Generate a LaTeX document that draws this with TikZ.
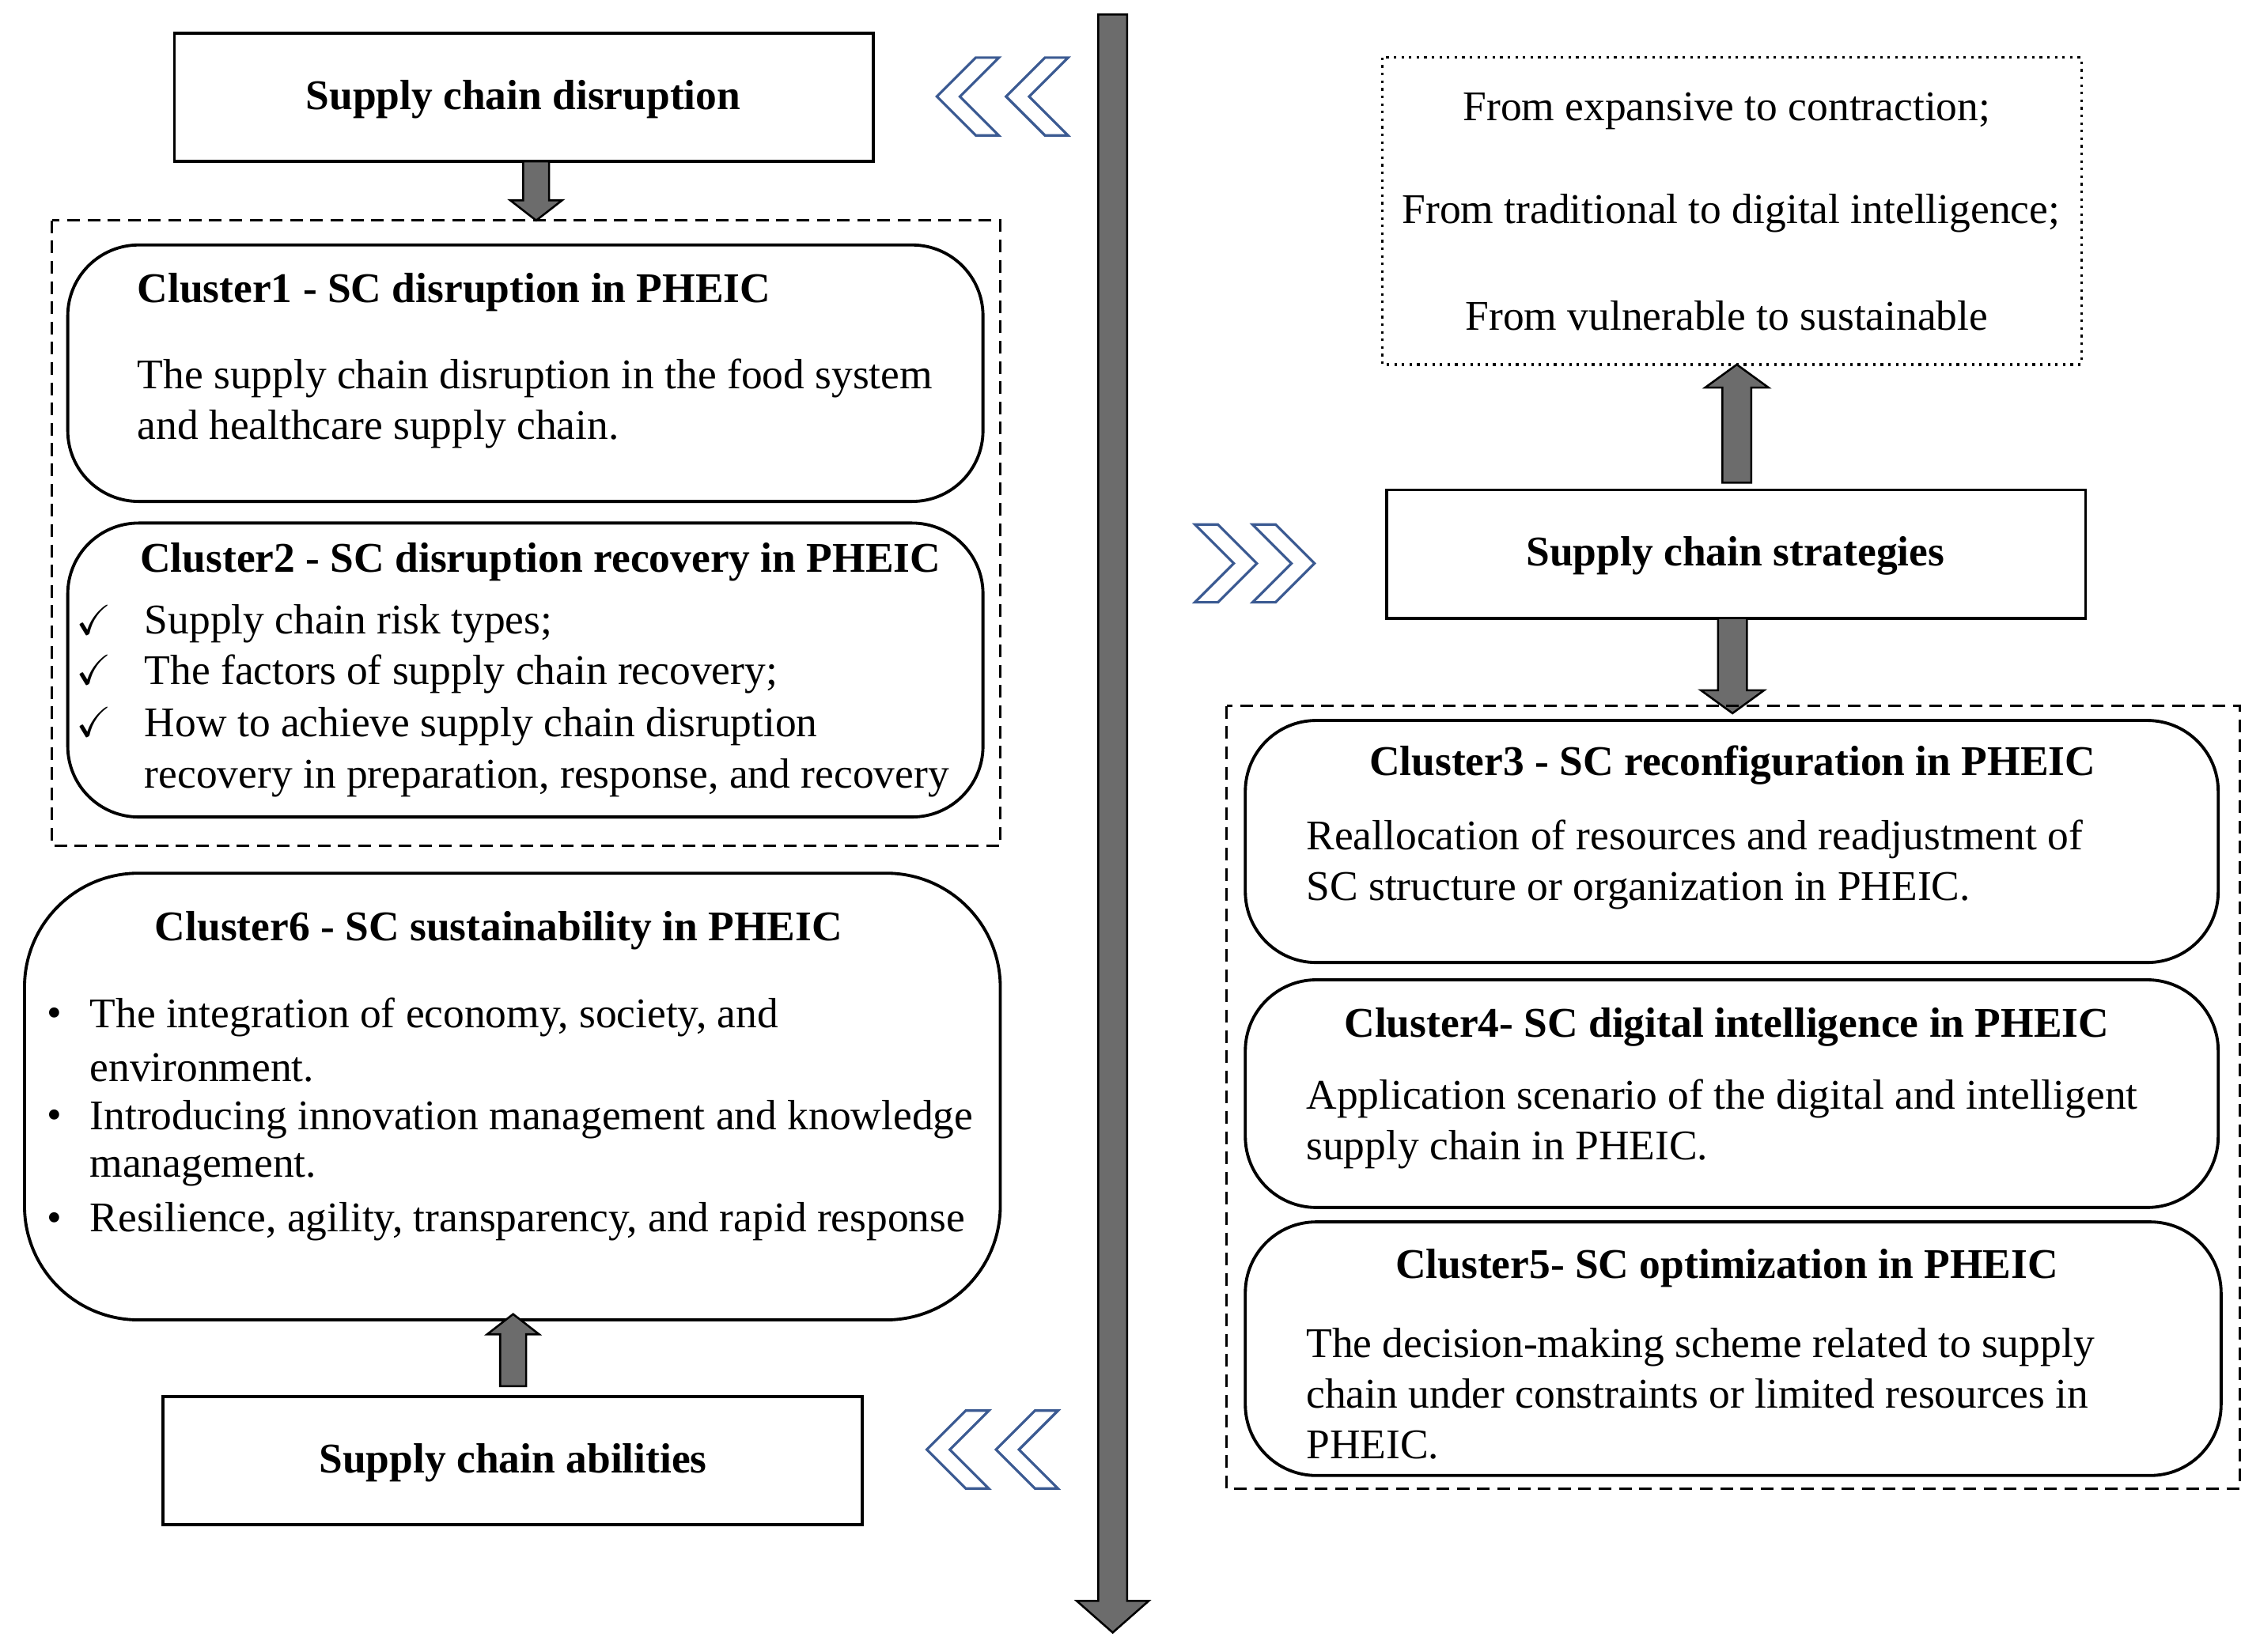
\documentclass[tikz,border=0pt]{standalone}
\usepackage{fontspec}
\setmainfont{Liberation Serif}
\usepackage{amssymb}
\definecolor{chevc}{HTML}{3B5A92}
\begin{document}
\begin{tikzpicture}[x=0.02cm,y=-0.02cm,
 every node/.style={inner sep=0pt,font=\fontsize{16.7}{20}\selectfont},
 sq/.style={draw,line width=1.2pt},
 rb/.style={draw,line width=1.2pt,rounded corners=28pt},
 dbox/.style={draw,line width=1pt,dash pattern=on 5pt off 3pt},
 garrow/.style={fill=gray!85!black,draw=black,line width=0.8pt},
 chev/.style={draw=chevc,line width=1pt,fill=white},
 tl/.style={anchor=west,align=left},
 ttl/.style={font=\fontsize{16.7}{20}\selectfont\bfseries}]
\useasboundingbox (0,0) rectangle (1568,1146);
\newcommand\varr[6]{\filldraw[garrow] (#1-#4,#2)--(#1-#4,#3-#6)--(#1-#5,#3-#6)--(#1,#3)--(#1+#5,#3-#6)--(#1+#4,#3-#6)--(#1+#4,#2)--cycle;}
\newcommand\lchev[2]{\foreach \d in {0,48}{\filldraw[chev] (#1+\d,#2)--(#1+\d+27,#2-27)--(#1+\d+43,#2-27)--(#1+\d+16,#2)--(#1+\d+43,#2+27)--(#1+\d+27,#2+27)--cycle;}}
\newcommand\rchev[2]{\foreach \d in {0,-40}{\filldraw[chev] (#1+\d,#2)--(#1+\d-27,#2-27)--(#1+\d-43,#2-27)--(#1+\d-16,#2)--(#1+\d-43,#2+27)--(#1+\d-27,#2+27)--cycle;}}
% central arrow
\varr{772}{10}{1133}{10}{25}{22}
% left column
\draw[sq] (121,23) rectangle (606,112);
\node[ttl] (scd) at (363,69) {Supply chain disruption};
\lchev{650}{67}
\varr{372}{112}{153}{9}{18}{14}
\draw[dbox] (36,153) rectangle (694,587);
\draw[rb] (47,170) rectangle (682,348);
\node[ttl,anchor=west] (c1t) at (95,203) {Cluster1 - SC disruption in PHEIC};
\node[tl] (c1) at (95,280) {The supply chain disruption in the food system\\and healthcare supply chain.};
\draw[rb] (47,363) rectangle (682,567);
\node[ttl] (c2t) at (375,390) {Cluster2 - SC disruption recovery in PHEIC};
\foreach \y/\t [count=\i] in {433/Supply chain risk types;,468/The factors of supply chain recovery;,504/How to achieve supply chain disruption}{
 \node (ck\i) at (65,\y-3) {$\checkmark$};
 \node[anchor=west] (c2l\i) at (100,\y) {\t};}
\node[anchor=west] (c2l4) at (100,540) {recovery in preparation, response, and recovery};
\draw[line width=1.2pt,rounded corners=45pt] (17,606) rectangle (694,916);
\node[ttl] (c6t) at (346,646) {Cluster6 - SC sustainability in PHEIC};
\foreach \y in {706,777,848}{\node (b\y) at (38,\y) {\textbullet};}
\node[anchor=west] (c6a) at (62,706) {The integration of economy, society, and};
\node[anchor=west] (c6b) at (62,741) {environment.};
\node[anchor=west] (c6c) at (62,777) {Introducing innovation management and knowledge};
\node[anchor=west] (c6d) at (62,812) {management.};
\node[anchor=west] (c6e) at (62,848) {Resilience, agility, transparency, and rapid response};
\varr{356}{962}{912}{9}{18}{-14}
\draw[sq] (113,969) rectangle (598,1058);
\node[ttl] (sca) at (356,1015) {Supply chain abilities};
\lchev{643}{1006}
% right column
\draw[line width=1pt,dotted] (959,40) rectangle (1444,253);
\node (f1) at (1198,77) {From expansive to contraction;};
\node (f2) at (1201,148) {From traditional to digital intelligence;};
\node (f3) at (1198,219) {From vulnerable to sustainable};
\varr{1205}{335}{253}{10}{22}{-16}
\rchev{912}{391}
\draw[sq] (962,340) rectangle (1447,429);
\node[ttl] (scs) at (1204,386) {Supply chain strategies};
\varr{1202}{429}{495}{10}{22}{16}
\draw[dbox] (851,490) rectangle (1554,1033);
\draw[rb] (864,500) rectangle (1539,668);
\node[ttl] (c3t) at (1202,531) {Cluster3 - SC reconfiguration in PHEIC};
\node[tl] (c3) at (906,600) {Reallocation of resources and readjustment of\\SC structure or organization in PHEIC.};
\draw[rb] (864,680) rectangle (1539,838);
\node[ttl] (c4t) at (1198,713) {Cluster4- SC digital intelligence in PHEIC};
\node[tl] (c4) at (906,780) {Application scenario of the digital and intelligent\\supply chain in PHEIC.};
\draw[rb] (864,848) rectangle (1541,1024);
\node[ttl] (c5t) at (1198,880) {Cluster5- SC optimization in PHEIC};
\node[tl] (c5) at (906,967) {The decision-making scheme related to supply\\chain under constraints or limited resources in\\PHEIC.};
\end{tikzpicture}
\end{document}
